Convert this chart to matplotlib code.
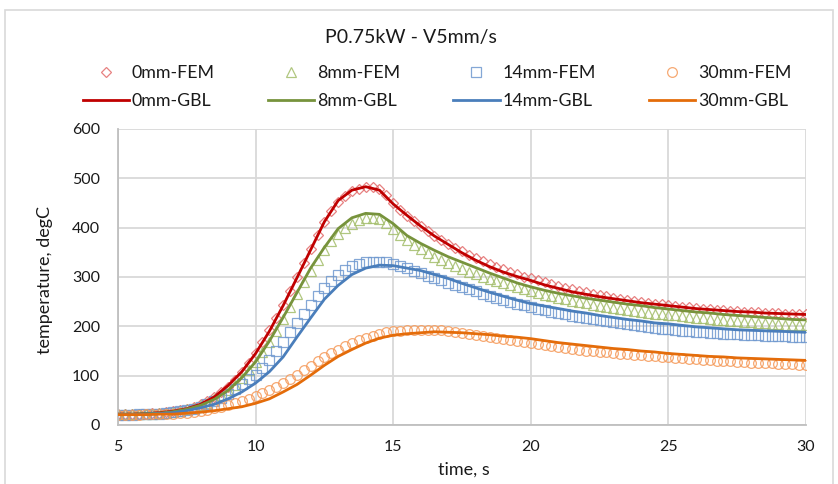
import numpy as np
import matplotlib
matplotlib.use("Agg")
import matplotlib.pyplot as plt
from matplotlib.patches import Rectangle

plt.rcParams['font.family'] = ['Lato', 'DejaVu Sans']

title = "P0.75kW - V5mm/s"
series_names = ["0mm", "8mm", "14mm", "30mm"]

# FEM results, sampled every 0.25 s from 5 s to 30 s
fem_0mm = [22, 22, 22, 23, 23, 24, 25, 26, 28, 30, 33, 37, 42, 48, 56, 66, 78, 92, 108, 126,
           146, 168, 192, 217, 244, 272, 300, 328, 356, 385, 411, 434, 452, 465, 474, 479, 482, 483, 478, 466,
           450, 436, 424, 413, 403, 393, 384, 375, 367, 359, 352, 345, 339, 333, 327, 321, 316, 311, 306, 301,
           297, 293, 289, 285, 281, 278, 275, 272, 269, 266, 263, 261, 258, 256, 254, 252, 250, 248, 246, 245,
           243, 242, 240, 239, 238, 236, 235, 234, 233, 232, 231, 230, 229, 229, 228, 227, 227, 226, 226, 225,
           225]
fem_8mm = [22, 22, 22, 22, 23, 23, 24, 25, 27, 29, 32, 35, 40, 45, 52, 60, 70, 82, 96, 111,
           128, 147, 168, 191, 215, 240, 265, 290, 313, 335, 355, 372, 387, 399, 408, 415, 419, 420, 418, 410,
           398, 385, 374, 364, 356, 348, 341, 334, 328, 322, 316, 311, 306, 301, 296, 291, 287, 283, 279, 275,
           271, 267, 264, 261, 258, 255, 252, 249, 247, 244, 242, 240, 238, 236, 234, 232, 230, 228, 226, 225,
           223, 222, 220, 219, 217, 216, 215, 213, 212, 211, 210, 209, 208, 207, 206, 205, 204, 203, 203, 202,
           202]
fem_14mm = [21, 21, 21, 22, 22, 23, 23, 24, 26, 28, 30, 33, 37, 42, 48, 55, 63, 73, 84, 93,
            102, 116, 132, 150, 168, 188, 206, 226, 243, 261, 278, 292, 304, 314, 322, 327, 330, 331, 331, 330,
            327, 323, 318, 313, 308, 303, 298, 293, 288, 284, 279, 275, 271, 266, 262, 258, 254, 250, 246, 243,
            239, 236, 233, 230, 227, 224, 221, 219, 216, 214, 212, 210, 208, 206, 204, 202, 200, 198, 197, 195,
            194, 192, 191, 190, 189, 188, 187, 186, 185, 184, 184, 183, 182, 182, 181, 181, 180, 180, 179, 179,
            179]
fem_30mm = [21, 21, 21, 21, 22, 22, 22, 23, 23, 24, 25, 27, 29, 31, 34, 37, 40, 44, 48, 53,
            58, 64, 71, 78, 86, 94, 102, 111, 120, 129, 137, 145, 153, 160, 166, 172, 177, 181, 185, 188,
            190, 191, 192, 193, 193, 193, 193, 192, 190, 188, 186, 184, 182, 180, 178, 176, 174, 172, 170, 168,
            166, 164, 162, 160, 158, 156, 154, 153, 151, 150, 148, 147, 145, 144, 143, 142, 141, 140, 139, 138,
            137, 136, 135, 134, 133, 132, 131, 130, 129, 129, 128, 127, 126, 126, 125, 125, 124, 123, 123, 122,
            122]

# GBL model, sampled every 0.5 s from 5 s to 30 s
gbl_0mm = [22, 22, 23, 25, 28, 33, 42, 57, 80, 108,
           145, 190, 242, 298, 355, 412, 455, 476, 483, 476,
           448, 425, 403, 383, 366, 349, 334, 321, 310, 301,
           293, 284, 277, 270, 265, 260, 256, 252, 248, 245,
           242, 239, 236, 234, 232, 230, 229, 227, 226, 225,
           224]
gbl_8mm = [22, 22, 23, 24, 27, 32, 40, 52, 70, 96,
           128, 170, 218, 268, 318, 360, 398, 420, 429, 427,
           408, 384, 368, 354, 341, 330, 319, 308, 298, 288,
           280, 273, 267, 262, 257, 253, 249, 245, 242, 238,
           235, 232, 229, 227, 224, 222, 220, 218, 216, 214,
           213]
gbl_14mm = [21, 21, 22, 23, 25, 29, 35, 42, 53, 67,
            85, 108, 138, 178, 217, 255, 283, 305, 318, 324,
            323, 318, 313, 305, 297, 287, 278, 269, 261, 253,
            246, 241, 236, 231, 227, 222, 218, 214, 211, 207,
            205, 202, 199, 197, 195, 193, 192, 191, 190, 189,
            188]
gbl_30mm = [21, 21, 21, 22, 22, 24, 26, 29, 33, 37,
            44, 53, 67, 82, 101, 121, 139, 153, 166, 176,
            182, 185, 187, 189, 188, 187, 185, 183, 180, 178,
            175, 171, 167, 164, 161, 158, 155, 153, 150, 148,
            145, 143, 141, 139, 138, 136, 135, 134, 133, 132,
            131]

t_fem = 5 + 0.25 * np.arange(len(fem_0mm))
t_gbl = 5 + 0.5 * np.arange(len(gbl_0mm))

fem_data = [fem_0mm, fem_8mm, fem_14mm, fem_30mm]
gbl_data = [gbl_0mm, gbl_8mm, gbl_14mm, gbl_30mm]
markers = ['D', '^', 's', 'o']
msizes = [5.5, 6.5, 6.5, 7]
fem_colors = ['#e36b6b', '#a3bd6a', '#6f98cf', '#f59a5a']
gbl_colors = ['#c00000', '#77933c', '#4a7ebb', '#e46c0a']
text_color = '#1a1a1a'

fig = plt.figure(figsize=(8.38, 4.84), dpi=100)
fig.patches.append(Rectangle((5 / 838, -0.1), 828 / 838, 1.1 - 10 / 484,
                             transform=fig.transFigure, fill=False,
                             edgecolor='#d9d9d9', lw=1.2))
ax = fig.add_axes([118 / 838, 1 - 425 / 484, 688 / 838, 296 / 484])

handles = []
for i in range(4):
    h1, = ax.plot(t_fem, fem_data[i], linestyle='none', marker=markers[i],
                  markersize=msizes[i], markerfacecolor='none',
                  markeredgecolor=fem_colors[i], markeredgewidth=0.9, alpha=0.85,
                  label=series_names[i] + "-FEM", zorder=2)
    handles.append(h1)
lines = []
for i in range(4):
    h2, = ax.plot(t_gbl, gbl_data[i], color=gbl_colors[i], lw=2.0,
                  label=series_names[i] + "-GBL", zorder=3)
    lines.append(h2)

ax.set_xlim(5, 30)
ax.set_ylim(0, 600)
ax.set_xticks([5, 10, 15, 20, 25, 30])
ax.set_yticks(range(0, 601, 100))
ax.grid(True, color='#d9d9d9', lw=1.3)
ax.set_axisbelow(True)
for s in ['top', 'right']:
    ax.spines[s].set_visible(False)
for s in ['left', 'bottom']:
    ax.spines[s].set_color('#bfbfbf')
    ax.spines[s].set_linewidth(1.3)
ax.tick_params(length=0, labelsize=11.5, colors=text_color)
ax.tick_params(axis='y', pad=13)
ax.tick_params(axis='x', pad=11)

fig.text(464 / 838, 1 - 470 / 484, "time, s", ha='center', va='center',
         fontsize=13, color=text_color)
fig.text(45 / 838, 1 - 280 / 484, "temperature, degC", ha='center', va='center',
         rotation=90, fontsize=13, color=text_color)
fig.text(411 / 838, 1 - 37 / 484, title, ha='center', va='center',
         fontsize=14, color=text_color)

order = []
for i in range(4):
    order += [handles[i], lines[i]]
ax.legend(handles=order, labels=[h.get_label() for h in order], ncol=4,
          loc='center', bbox_to_anchor=(437 / 838, 1 - 87 / 484),
          bbox_transform=fig.transFigure, frameon=False, fontsize=12.8,
          handlelength=2.6, handletextpad=0.15, columnspacing=3.0,
          labelspacing=0.65, labelcolor=text_color)

fig.savefig("out.png", dpi=100)
